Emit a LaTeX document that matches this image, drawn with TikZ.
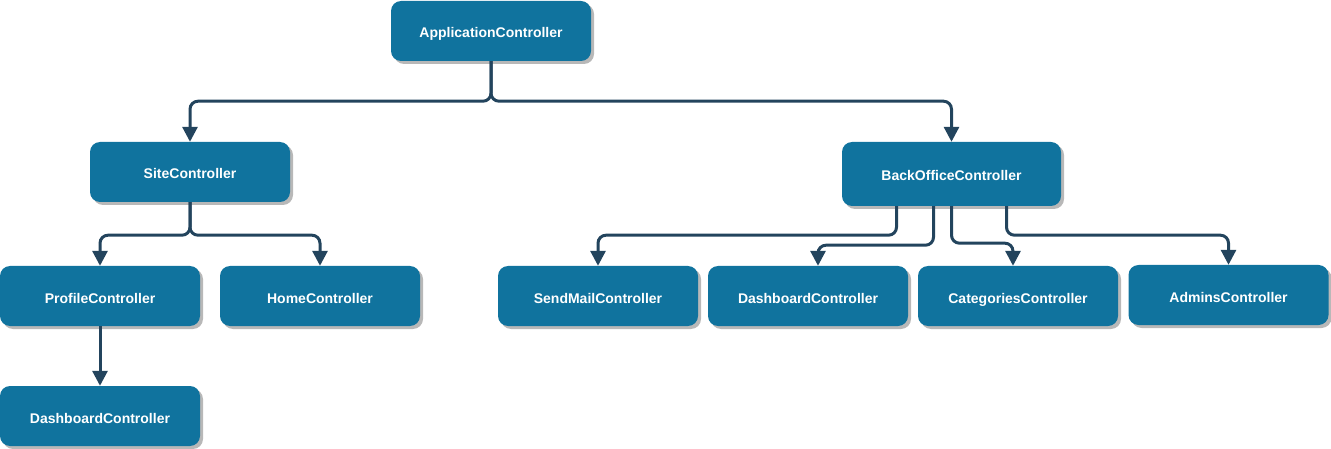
\documentclass[tikz,border=0pt]{standalone}
\usepackage{fontspec}
\setmainfont{Liberation Sans}
\usetikzlibrary{arrows.meta,shadows}
\definecolor{ctrlblue}{HTML}{10739E}
\definecolor{linkdark}{HTML}{23445D}
\tikzstyle{every node} = [
		font = \bfseries\fontsize{14}{16}\selectfont,
	]
\tikzstyle{controller} = [
		rectangle,
		rounded corners = 10pt,
		minimum width = 200pt,
		minimum height = 60pt,
		text height = 14pt,
		text depth = 0pt,
		draw = none,
		fill = ctrlblue,
		text = white,
		text centered,
		drop shadow = {shadow xshift=3pt, shadow yshift=-3pt, fill=black!35, opacity=.8}
	]
\tikzstyle{link} = [
		draw = linkdark,
		line width = 3pt,
		rounded corners = 8pt,
		-{Triangle[length=15pt,width=15pt]}
	]

\begin{document}
\begin{tikzpicture}[x=1pt, y=-1pt]
	\useasboundingbox (0,0) rectangle (1331,449);

		%------------------------------Chart------------------------------
		\node [controller] (app) at (491,31) {ApplicationController};
		\node [controller] (site) at (190,172) {SiteController};
		\node [controller, minimum width=219pt, minimum height=64pt] (backoffice) at (951.5,174) {BackOfficeController};
		\node [controller] (profile) at (100,296) {ProfileController};
		\node [controller] (home) at (320,296) {HomeController};
		\node [controller] (profiledash) at (100,416) {DashboardController};
		\node [controller] (sendmail) at (598,296) {SendMailController};
		\node [controller] (dashboard) at (808,296) {DashboardController};
		\node [controller] (categories) at (1018,296) {CategoriesController};
		\node [controller] (admins) at (1228.5,295) {AdminsController};

		%------------------------------Links------------------------------
		\draw [link] (app.south) -- ++(0,40) -| (site.north);
		\draw [link] (app.south) -- ++(0,40) -| (backoffice.north);
		\draw [link] (site.south) -- ++(0,33) -| (profile.north);
		\draw [link] (site.south) -- ++(0,33) -| (home.north);
		\draw [link] (profile.south) -- (profiledash.north);
		\draw [link] ([xshift=-55pt]backoffice.south) -- ++(0,29) -| (sendmail.north);
		\draw [link] ([xshift=-18pt]backoffice.south) -- ++(0,39) -| ([xshift=10pt]dashboard.north);
		\draw [link] (backoffice.south) -- ++(0,37) -| ([xshift=-5pt]categories.north);
		\draw [link] ([xshift=55pt]backoffice.south) -- ++(0,29) -| (admins.north);

\end{tikzpicture}
\end{document}
